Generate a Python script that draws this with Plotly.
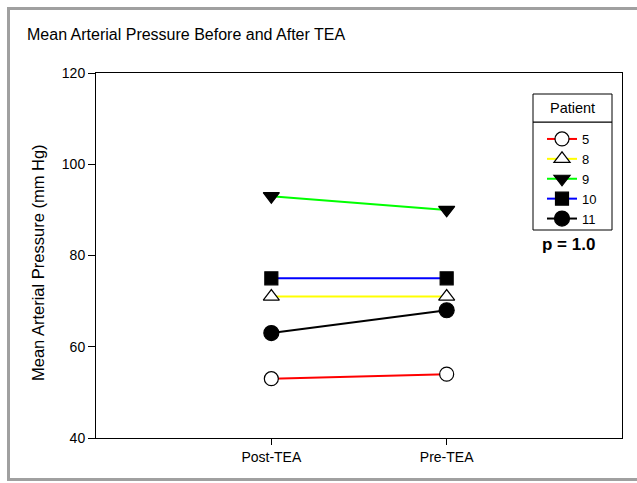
import plotly.graph_objects as go

conditions = ["Post-TEA", "Pre-TEA"]
patients = ["5", "8", "9", "10", "11"]
p5 = [53, 54]
p8 = [71, 71]
p9 = [93, 90]
p10 = [75, 75]
p11 = [63, 68]
y_ticks = [40, 60, 80, 100, 120]

series = [p5, p8, p9, p10, p11]
colors = ["#FF0000", "#FFFF00", "#00FF00", "#0000FF", "#000000"]
symbols = ["circle", "triangle-up", "triangle-down", "square", "circle"]
fills = ["white", "white", "black", "black", "black"]
sizes = [14, 14, 14, 13, 15]

W, H = 637, 483
L, R, T, B = 96, 15, 73, 45
pw, ph = W - L - R, H - T - B

def px(x):
    return (x - L) / pw

def py(y):
    return (H - B - y) / ph

fig = go.Figure()
for name, vals, c, s, f, sz in zip(patients, series, colors, symbols, fills, sizes):
    fig.add_trace(go.Scatter(
        x=conditions, y=vals, name=name, mode="lines+markers",
        line=dict(color=c, width=2),
        marker=dict(symbol=s, size=sz, color=f, line=dict(color="black", width=1.2)),
    ))

fig.update_layout(
    width=W, height=H,
    margin=dict(l=L, r=R, t=T, b=B),
    paper_bgcolor="white", plot_bgcolor="white",
    font=dict(family="Liberation Sans, Arial, sans-serif", color="black", size=14),
    title=dict(text="Mean Arterial Pressure Before and After TEA",
               x=27 / W, xanchor="left", xref="container",
               y=1 - 34 / H, yanchor="middle", yref="container",
               font=dict(size=16, color="black")),
    showlegend=True,
    legend=dict(x=px(542), y=py(124), xanchor="left", yanchor="top",
                borderwidth=0, bgcolor="rgba(0,0,0,0)",
                font=dict(size=13), tracegroupgap=0, itemwidth=30),
)
fig.update_xaxes(type="category", range=[-1, 2], showline=True, linecolor="black",
                 linewidth=1, mirror=True, ticks="outside", ticklen=6, tickcolor="black",
                 showgrid=False, zeroline=False, tickfont=dict(size=14))
fig.update_yaxes(range=[40, 120], tickvals=y_ticks, showline=True, linecolor="black",
                 linewidth=1, mirror=True, ticks="outside", ticklen=7, tickcolor="black",
                 showgrid=False, zeroline=False, tickfont=dict(size=14))

fig.add_annotation(text="Mean Arterial Pressure (mm Hg)", xref="paper", yref="paper",
                   x=px(38), y=py(263), xanchor="center", yanchor="middle",
                   textangle=-90, showarrow=False, font=dict(size=16.5))

# Legend body box
fig.add_shape(type="rect", xref="paper", yref="paper",
              x0=px(533), x1=px(612), y0=py(122), y1=py(230),
              line=dict(color="black", width=1), fillcolor="white", layer="below")
# Legend header box
fig.add_shape(type="rect", xref="paper", yref="paper",
              x0=px(533), x1=px(612), y0=py(94), y1=py(122),
              line=dict(color="black", width=1), fillcolor="white", layer="below")
fig.add_annotation(text="Patient", xref="paper", yref="paper",
                   x=px(572.5), y=py(108), xanchor="center", yanchor="middle",
                   showarrow=False, font=dict(size=14.5))
fig.add_annotation(text="<b>p = 1.0</b>", xref="paper", yref="paper",
                   x=px(568), y=py(245), xanchor="center", yanchor="middle",
                   showarrow=False, font=dict(size=17))

# page border
fig.add_shape(type="rect", xref="paper", yref="paper",
              x0=px(8.5), x1=px(700), y0=py(8.5), y1=py(479.5),
              line=dict(color="#A0A0A0", width=3), fillcolor="rgba(0,0,0,0)", layer="above")

fig.write_html("out.html", config={"displayModeBar": False},
               post_script="document.body.style.margin='0';document.body.style.overflow='hidden';")
